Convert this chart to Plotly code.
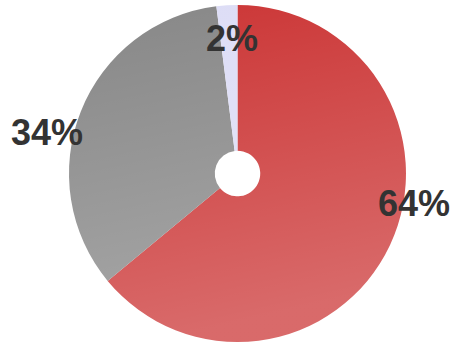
import base64
import plotly.graph_objects as go

# Share of each segment (percent)
segments = ["Red", "Gray", "Lavender"]
shares = [64, 34, 2]
slice_colors = ["#ca3030", "#858585", "#dcdcf6"]

# Label anchors around the ring (paper coordinates)
label_x = [0.916, 0.104, 0.513]
label_y = [0.410, 0.615, 0.888]

total = sum(shares)
labels = [f"{round(v / total * 100)}%" for v in shares]

fig = go.Figure()
fig.add_trace(go.Pie(
    labels=segments,
    values=shares,
    sort=False,
    direction="clockwise",
    rotation=0,
    hole=0.135,
    marker=dict(colors=slice_colors, line=dict(width=0)),
    textinfo="none",
    hoverinfo="skip",
    showlegend=False,
    domain=dict(x=[0.1515, 0.8993], y=[0.0087, 0.9855]),
))

# Soft white sheen fading in towards the bottom, giving the slices a gradient look
svg = (
    "<svg xmlns='http://www.w3.org/2000/svg' width='452' height='345'>"
    "<defs><linearGradient id='g' x1='0' y1='0' x2='0.3' y2='1'>"
    "<stop offset='0' stop-color='white' stop-opacity='0'/>"
    "<stop offset='1' stop-color='white' stop-opacity='0.28'/>"
    "</linearGradient></defs>"
    "<rect width='452' height='345' fill='url(#g)'/></svg>"
)
uri = "data:image/svg+xml;base64," + base64.b64encode(svg.encode()).decode()
fig.add_layout_image(dict(
    source=uri, xref="paper", yref="paper", x=0, y=1, sizex=1, sizey=1,
    xanchor="left", yanchor="top", sizing="stretch", layer="above",
))

for txt, x, y in zip(labels, label_x, label_y):
    fig.add_annotation(
        text=f"<b>{txt}</b>", x=x, y=y, xref="paper", yref="paper",
        showarrow=False, xanchor="center", yanchor="middle",
        font=dict(family="Liberation Sans, Arial, sans-serif", size=36, color="#333333"),
    )

fig.update_layout(
    width=452, height=345,
    margin=dict(l=0, r=0, t=0, b=0),
    paper_bgcolor="white", plot_bgcolor="white",
)

fig.write_html("out.html")
